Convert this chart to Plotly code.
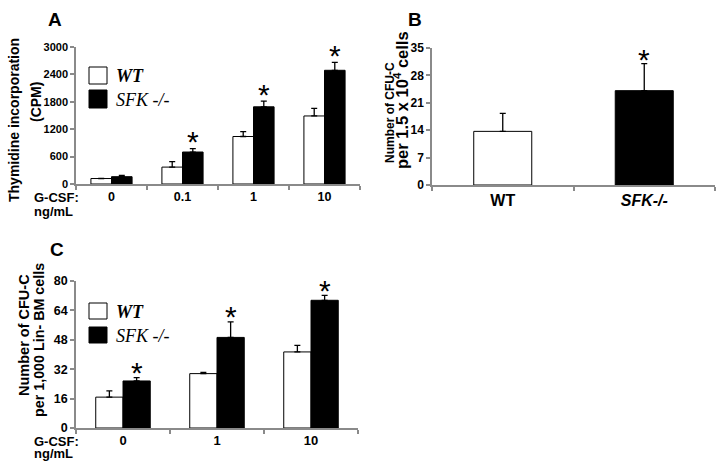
import plotly.graph_objects as go

W, H = 725, 472

# ---------------- data ----------------
a_doses = ["0", "0.1", "1", "10"]
a_wt = [120, 370, 1040, 1490]
a_wt_err = [0, 120, 105, 165]
a_sfk = [160, 700, 1690, 2490]
a_sfk_err = [30, 75, 125, 175]
a_sig = [False, True, True, True]

b_groups = ["WT", "<i>SFK-/-</i>"]
b_vals = [13.7, 24.1]
b_err = [4.6, 6.9]
b_sig = [False, True]

c_doses = ["0", "1", "10"]
c_wt = [16.8, 29.6, 41.4]
c_wt_err = [3.4, 0.6, 3.6]
c_sfk = [25.6, 49.3, 69.5]
c_sfk_err = [1.8, 8.5, 2.7]
c_sig = [True, True, True]

a_yticks = [0, 600, 1200, 1800, 2400, 3000]
b_yticks = [0, 7, 14, 21, 28, 35]
c_yticks = [0, 16, 32, 48, 64, 80]

SANS = "Liberation Sans, Arial, sans-serif"
SERIF = "Liberation Serif, Times New Roman, serif"
GRAY = "#8a8a8a"


def px(x):
    return x / W


def py(y):
    return 1 - y / H


fig = go.Figure()


def err(arr):
    return dict(type="data", array=arr, arrayminus=[0] * len(arr), symmetric=False,
                color="black", thickness=1.3, width=3)


# Panel A
fig.add_trace(go.Bar(x=a_doses, y=a_wt, name="WT", marker=dict(color="white", line=dict(color="black", width=1)),
                     error_y=err(a_wt_err), xaxis="x", yaxis="y", showlegend=False))
fig.add_trace(go.Bar(x=a_doses, y=a_sfk, name="SFK -/-", marker=dict(color="black", line=dict(color="black", width=1)),
                     error_y=err(a_sfk_err), xaxis="x", yaxis="y", showlegend=False))
# Panel B
fig.add_trace(go.Bar(x=b_groups, y=b_vals, marker=dict(color=["white", "black"], line=dict(color="black", width=1)),
                     error_y=err(b_err), width=0.41, xaxis="x2", yaxis="y2", showlegend=False))
# Panel C
fig.add_trace(go.Bar(x=c_doses, y=c_wt, marker=dict(color="white", line=dict(color="black", width=1)),
                     error_y=err(c_wt_err), xaxis="x3", yaxis="y3", showlegend=False))
fig.add_trace(go.Bar(x=c_doses, y=c_sfk, marker=dict(color="black", line=dict(color="black", width=1)),
                     error_y=err(c_sfk_err), xaxis="x3", yaxis="y3", showlegend=False))


def xax(domain, anchor, size, n):
    return dict(domain=domain, anchor=anchor, type="category", range=[-0.5, n - 0.5], autorange=False,
                showline=True, linecolor=GRAY, linewidth=1.5, automargin=False, tickangle=0,
                ticks="outside", tickson="boundaries", ticklen=4, tickcolor=GRAY, tickwidth=1.5,
                showgrid=False, zeroline=False, tickfont=dict(family=SANS, size=size, color="black", weight="bold"))


def yax(domain, anchor, rng, ticks, size):
    return dict(domain=domain, anchor=anchor, range=rng, tickvals=ticks, showline=True, linecolor=GRAY,
                linewidth=1.5, ticks="outside", ticklen=4, tickcolor=GRAY, tickwidth=1.5, showgrid=False,
                automargin=False,
                zeroline=False, tickfont=dict(family=SANS, size=size, color="black", weight="bold"))


fig.update_layout(
    width=W, height=H, margin=dict(l=0, r=0, t=0, b=0, autoexpand=False),
    paper_bgcolor="white", plot_bgcolor="white",
    barmode="group", bargap=0.42, bargroupgap=0,
    xaxis=xax([px(76), px(360)], "y", 12.5, len(a_doses)),
    yaxis=yax([py(184), py(47)], "x", [0, 3000], a_yticks, 11),
    xaxis2=xax([px(432), px(715)], "y2", 16, len(b_groups)),
    yaxis2=yax([py(185), py(48)], "x2", [0, 35], b_yticks, 12),
    xaxis3=xax([px(76), px(358)], "y3", 13, len(c_doses)),
    yaxis3=yax([py(428), py(281)], "x3", [0, 80], c_yticks, 12.5),
)

ann = []


def text(x, y, t, size, angle=0, bold=True, family=SANS, xanchor="center", italic=False):
    ann.append(dict(x=px(x), y=py(y), xref="paper", yref="paper", text=t, showarrow=False,
                    textangle=angle, xanchor=xanchor, yanchor="middle",
                    font=dict(family=family, size=size, color="black", weight="bold" if bold else "normal",
                              style="italic" if italic else "normal")))


# panel letters
text(55, 19, "A", 19)
text(415, 19, "B", 19)
text(57, 249, "C", 19)

# y titles
text(14, 120, "Thymidine incorporation", 14, angle=-90)
text(36, 102, "(CPM)", 14, angle=-90)
text(390, 113, "Number of CFU-C", 12, angle=-90)
text(401, 100, "per 1.5 x 10<sup>4</sup> cells", 16.5, angle=-90)
text(24, 335, "Number of CFU-C", 14.5, angle=-90)
text(39, 340, "per 1,000 Lin- BM cells", 14.3, angle=-90)

# G-CSF labels
text(32, 197, "G-CSF:", 13, xanchor="left")
text(32, 211, "ng/mL", 13, xanchor="left")
text(32, 441, "G-CSF:", 13, xanchor="left")
text(32, 453, "ng/mL", 13, xanchor="left")

# legends (boxes + labels)
shapes = []
for (y0, y1, fill, label, bold, italic, size) in [
    (67, 84, "white", "WT", True, True, 18), (90, 108, "black", "SFK -/-", False, True, 18),
    (303, 319, "white", "WT", True, True, 18), (327, 343, "black", "SFK -/-", False, True, 18)]:
    shapes.append(dict(type="rect", xref="paper", yref="paper", x0=px(89), x1=px(107), y0=py(y1), y1=py(y0),
                       fillcolor=fill, line=dict(color="black", width=1)))
    text(114, (y0 + y1) / 2 + 0.5, label, size, bold=bold, family=SERIF, xanchor="left", italic=italic)


# asterisks
def star(xref, yref, idx, top, shift, ys):
    ann.append(dict(x=idx, y=top, xref=xref, yref=yref, text="*", showarrow=False, xshift=shift,
                    yanchor="middle", yshift=ys, font=dict(family=SANS, size=30, color="black")))


for i, s in enumerate(a_sig):
    if s:
        star("x", "y", i, a_sfk[i] + a_sfk_err[i], 10.25, 7)
for i, s in enumerate(b_sig):
    if s:
        star("x2", "y2", i, b_vals[i] + b_err[i], 0, 4)
for i, s in enumerate(c_sig):
    if s:
        star("x3", "y3", i, c_sfk[i] + c_sfk_err[i], 13.5, 5)

fig.update_layout(annotations=ann, shapes=shapes)
fig.write_html("out.html", config={"displayModeBar": False},
               post_script="document.body.style.margin='0';document.body.style.overflow='hidden';")
